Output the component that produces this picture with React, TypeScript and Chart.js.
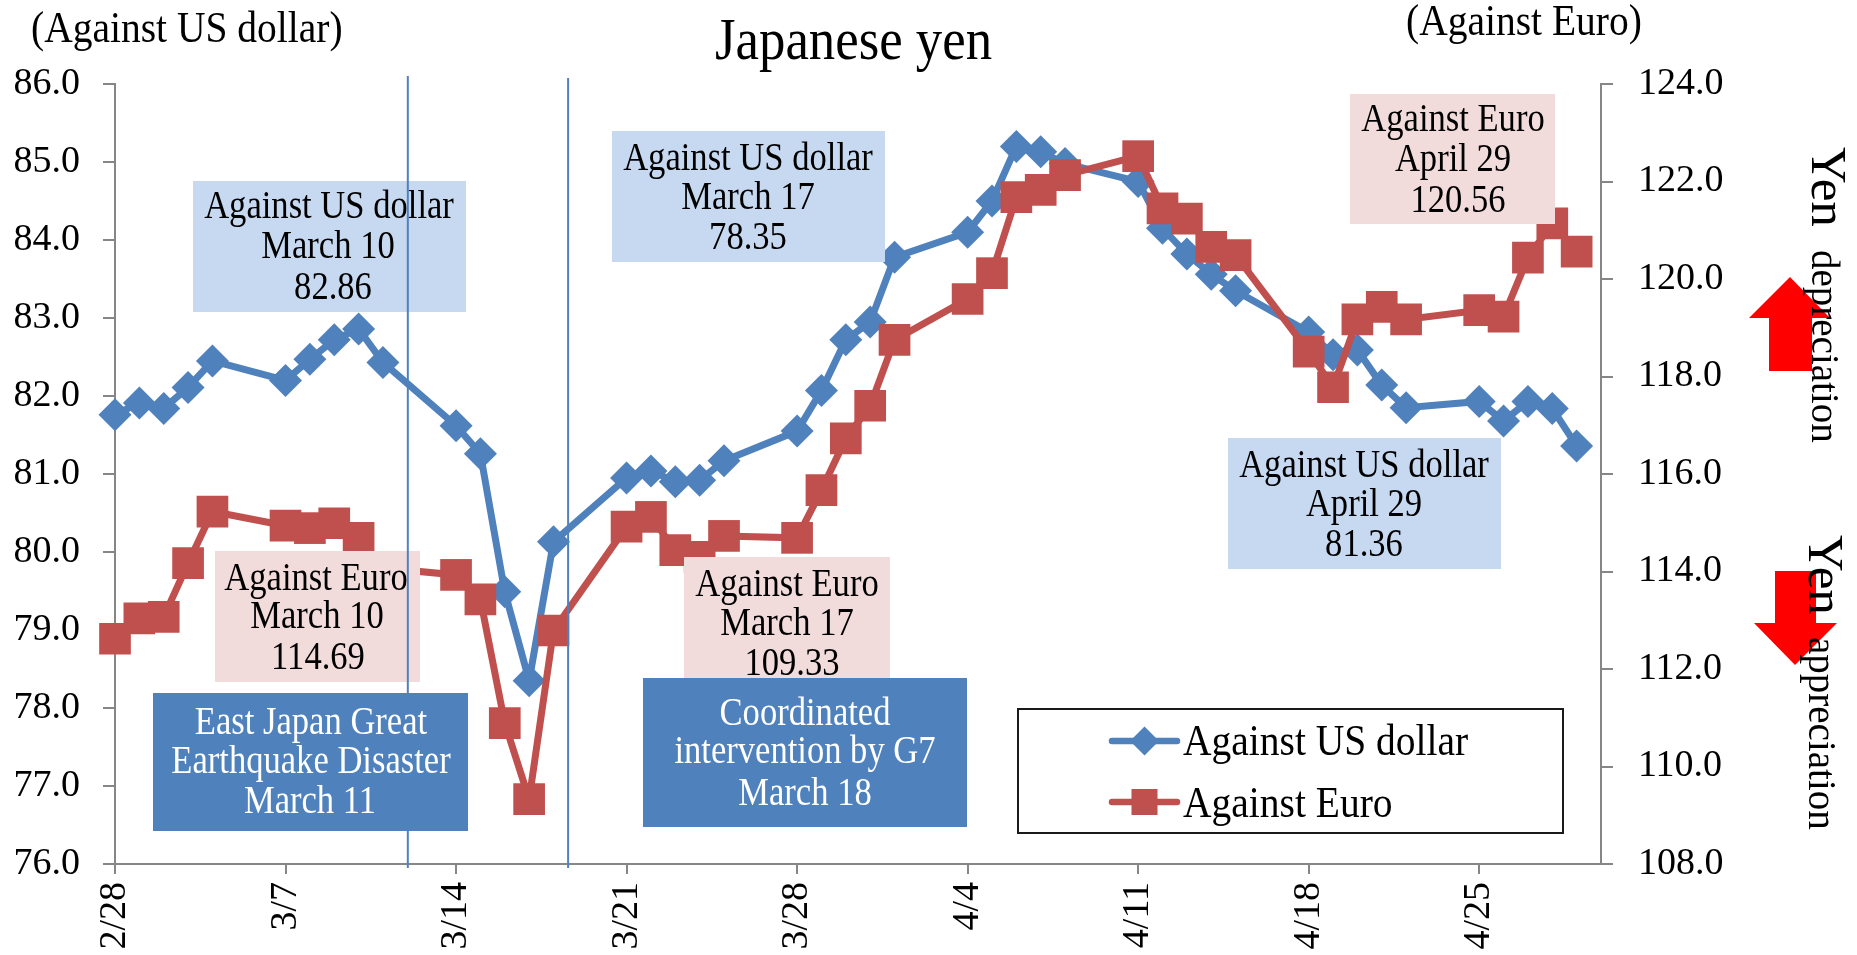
import React, { useEffect, useRef } from "react";
import { Chart, registerables } from "chart.js";
import { drawPoint } from "chart.js/helpers";

Chart.register(...registerables);

// Days counted from 2/28 (trading days only)
const tradingDays = [0, 1, 2, 3, 4, 7, 8, 9, 10, 11, 14, 15, 16, 17, 18, 21, 22, 23, 24, 25, 28, 29, 30, 31, 32, 35, 36, 37, 38, 39, 42, 43, 44, 45, 46, 49, 50, 51, 52, 53, 56, 57, 58, 59, 60];
const usdValues = [81.76, 81.91, 81.84, 82.11, 82.45, 82.2, 82.47, 82.72, 82.86, 82.43, 81.62, 81.26, 79.49, 78.35, 80.13, 80.95, 81.04, 80.9, 80.92, 81.17, 81.55, 82.07, 82.72, 82.95, 83.78, 84.1, 84.5, 85.2, 85.13, 84.98, 84.75, 84.15, 83.82, 83.56, 83.35, 82.82, 82.53, 82.59, 82.14, 81.85, 81.93, 81.68, 81.93, 81.84, 81.36];
const eurValues = [112.62, 113.04, 113.07, 114.17, 115.23, 114.94, 114.89, 114.99, 114.69, 114.07, 113.93, 113.43, 110.89, 109.33, 112.79, 114.92, 115.12, 114.44, 114.3, 114.73, 114.69, 115.67, 116.73, 117.4, 118.75, 119.59, 120.12, 121.68, 121.83, 122.13, 122.52, 121.45, 121.24, 120.66, 120.49, 118.51, 117.78, 119.17, 119.43, 119.17, 119.36, 119.23, 120.44, 121.14, 120.56];
const xTickLabels = ["2/28", "3/7", "3/14", "3/21", "3/28", "4/4", "4/11", "4/18", "4/25"];
const eventDays = [12.02, 18.6];
const eventTops = [76, 78];

const USD = "#4F81BD";
const EUR = "#C0504D";
const AXIS = "#868686";
const LIGHT_BLUE = "#C6D9F1";
const PINK = "#F2DCDB";
const SERIF = '"Liberation Serif", "Times New Roman", serif';
const TEXT_STRETCH = 1.13;

type Line = [string, number, number];
type Box = { r: number[]; fill: string; color: string; lines: Line[] };

const softBoxes: Box[] = [
  { r: [193, 181, 466, 312], fill: LIGHT_BLUE, color: "#000", lines: [["Against US dollar", 329, 218], ["March 10", 328, 258], ["82.86", 333, 299]] },
  { r: [215, 551, 420, 682], fill: PINK, color: "#000", lines: [["Against Euro", 316, 590], ["March 10", 317, 628], ["114.69", 318, 669]] },
  { r: [612, 131, 885, 262], fill: LIGHT_BLUE, color: "#000", lines: [["Against US dollar", 748, 170], ["March 17", 748, 209], ["78.35", 748, 249]] },
  { r: [684, 557, 890, 688], fill: PINK, color: "#000", lines: [["Against Euro", 787, 596], ["March 17", 787, 635], ["109.33", 792, 675]] },
  { r: [1350, 94, 1555, 224], fill: PINK, color: "#000", lines: [["Against Euro", 1453, 131], ["April 29", 1453, 171], ["120.56", 1458, 212]] },
  { r: [1228, 438, 1501, 569], fill: LIGHT_BLUE, color: "#000", lines: [["Against US dollar", 1364, 477], ["April 29", 1364, 516], ["81.36", 1364, 556]] },
];
const solidBoxes: Box[] = [
  { r: [153, 693, 468, 831], fill: USD, color: "#fff", lines: [["East Japan Great", 311, 734], ["Earthquake Disaster", 311, 773], ["March 11", 310, 813]] },
  { r: [643, 678, 967, 827], fill: USD, color: "#fff", lines: [["Coordinated", 805, 725], ["intervention by G7", 805, 763], ["March 18", 805, 805]] },
];

function tallText(ctx: CanvasRenderingContext2D, t: string, x: number, y: number) {
  ctx.save();
  ctx.translate(x, y);
  ctx.scale(1, TEXT_STRETCH);
  ctx.fillText(t, 0, 0);
  ctx.restore();
}

function drawBox(ctx: CanvasRenderingContext2D, b: Box) {
  const [x0, y0, x1, y1] = b.r;
  ctx.fillStyle = b.fill;
  ctx.fillRect(x0, y0, x1 - x0, y1 - y0);
  ctx.fillStyle = b.color;
  ctx.font = `34.6px ${SERIF}`;
  ctx.textAlign = "center";
  ctx.textBaseline = "alphabetic";
  for (const [t, x, y] of b.lines) tallText(ctx, t, x, y);
}

function arrow(ctx: CanvasRenderingContext2D, pts: number[][]) {
  ctx.fillStyle = "#FF0000";
  ctx.beginPath();
  pts.forEach(([x, y], i) => (i ? ctx.lineTo(x, y) : ctx.moveTo(x, y)));
  ctx.closePath();
  ctx.fill();
}

function vText(ctx: CanvasRenderingContext2D, t: string, x: number, y: number, size: number) {
  ctx.save();
  ctx.translate(x, y);
  ctx.rotate(Math.PI / 2);
  ctx.font = `${size}px ${SERIF}`;
  ctx.textAlign = "left";
  ctx.textBaseline = "alphabetic";
  ctx.fillStyle = "#000";
  ctx.fillText(t, 0, 0);
  ctx.restore();
}

const overlay = {
  id: "overlay",
  afterDatasetsDraw(chart: any) {
    const ctx: CanvasRenderingContext2D = chart.ctx;
    ctx.save();
    softBoxes.forEach((b) => drawBox(ctx, b));

    ctx.strokeStyle = USD;
    ctx.lineWidth = 2;
    eventDays.forEach((d, i) => {
      const x = chart.scales.x.getPixelForValue(d);
      ctx.beginPath();
      ctx.moveTo(x, eventTops[i]);
      ctx.lineTo(x, 868);
      ctx.stroke();
    });

    solidBoxes.forEach((b) => drawBox(ctx, b));

    // Legend
    ctx.fillStyle = "#fff";
    ctx.fillRect(1018, 709, 545, 124);
    ctx.strokeStyle = "#1a1a1a";
    ctx.lineWidth = 2;
    ctx.strokeRect(1018, 709, 545, 124);
    const rows = [
      { y: 741, base: 755, ds: 0, opt: { pointStyle: "rectRot", radius: 14.5, rotation: 0, borderWidth: 0 } },
      { y: 802, base: 817, ds: 1, opt: { pointStyle: "rect", radius: 18.4, rotation: 0, borderWidth: 0 } },
    ];
    rows.forEach((row) => {
      const ds = chart.data.datasets[row.ds];
      ctx.strokeStyle = ds.borderColor;
      ctx.fillStyle = ds.borderColor;
      ctx.lineWidth = 6.5;
      ctx.lineCap = "round";
      ctx.beginPath();
      ctx.moveTo(1112, row.y);
      ctx.lineTo(1177, row.y);
      ctx.stroke();
      drawPoint(ctx, row.opt as any, 1144.5, row.y);
      ctx.fillStyle = "#000";
      ctx.font = `39.5px ${SERIF}`;
      ctx.textAlign = "left";
      ctx.textBaseline = "alphabetic";
      tallText(ctx, ds.label, 1183, row.base);
    });

    // Headings
    ctx.fillStyle = "#000";
    ctx.textAlign = "left";
    ctx.font = `39.5px ${SERIF}`;
    tallText(ctx, "(Against US dollar)", 31, 42);
    tallText(ctx, "(Against Euro)", 1406, 35);
    ctx.font = `52.8px ${SERIF}`;
    tallText(ctx, "Japanese yen", 715, 59);

    // Direction arrows and captions
    arrow(ctx, [[1790, 277], [1830, 318], [1812, 318], [1812, 371], [1769, 371], [1769, 318], [1749, 318]]);
    arrow(ctx, [[1775, 571], [1816, 571], [1816, 623], [1837, 623], [1795, 665], [1754, 623], [1775, 623]]);
    vText(ctx, "Yen", 1812, 147, 51);
    vText(ctx, "depreciation", 1812, 250, 39);
    vText(ctx, "Yen", 1809, 535, 51);
    vText(ctx, "appreciation", 1809, 637, 39);
    ctx.restore();
  },
};

const whiteBg = {
  id: "whiteBg",
  beforeDraw(chart: any) {
    chart.ctx.save();
    chart.ctx.fillStyle = "#fff";
    chart.ctx.fillRect(0, 0, chart.width, chart.height);
    chart.ctx.restore();
  },
};

export default function App() {
  const ref = useRef<HTMLCanvasElement>(null);
  useEffect(() => {
    const axisBits = (tickLength: number) => ({
      drawOnChartArea: false,
      drawTicks: true,
      tickLength,
      tickWidth: 2,
      tickColor: AXIS,
      color: AXIS,
      lineWidth: 2,
    });
    const chart = new Chart(ref.current as HTMLCanvasElement, {
      type: "line",
      data: {
        datasets: [
          {
            label: "Against US dollar",
            yAxisID: "y",
            order: 1,
            data: tradingDays.map((d, i) => ({ x: d, y: usdValues[i] })),
            borderColor: USD,
            backgroundColor: USD,
            borderWidth: 7,
            pointStyle: "rectRot",
            pointRadius: 16.5,
            pointBorderWidth: 0,
            tension: 0,
            clip: false,
          },
          {
            label: "Against Euro",
            yAxisID: "y1",
            order: 0,
            data: tradingDays.map((d, i) => ({ x: d, y: eurValues[i] })),
            borderColor: EUR,
            backgroundColor: EUR,
            borderWidth: 7,
            pointStyle: "rect",
            pointRadius: 22.4,
            pointBorderWidth: 0,
            tension: 0,
            clip: false,
          },
        ],
      },
      options: {
        responsive: false,
        animation: false,
        layout: { padding: { top: 84, left: 0, right: 0, bottom: 0 } },
        plugins: { legend: { display: false }, tooltip: { enabled: false }, title: { display: false } },
        scales: {
          x: {
            type: "linear",
            min: 0,
            max: 61,
            grid: axisBits(10),
            border: { color: AXIS, width: 2 },
            afterFit: (s: any) => { s.height = 91; },
            ticks: {
              stepSize: 7,
              includeBounds: false,
              autoSkip: false,
              minRotation: 90,
              maxRotation: 90,
              padding: 8,
              color: "#000",
              font: { family: SERIF, size: 38 },
              callback: (v: any) => xTickLabels[Math.round(Number(v) / 7)] ?? "",
            },
          },
          y: {
            type: "linear",
            position: "left",
            min: 76,
            max: 86,
            grid: axisBits(12),
            border: { color: AXIS, width: 2 },
            afterFit: (s: any) => { s.width = 115; },
            ticks: {
              stepSize: 1,
              padding: 23,
              color: "#000",
              font: { family: SERIF, size: 38 },
              callback: (v: any) => Number(v).toFixed(1),
            },
          },
          y1: {
            type: "linear",
            position: "right",
            min: 108,
            max: 124,
            grid: axisBits(12),
            border: { color: AXIS, width: 2 },
            afterFit: (s: any) => { s.width = 256; },
            ticks: {
              stepSize: 2,
              padding: 25,
              color: "#000",
              font: { family: SERIF, size: 38 },
              callback: (v: any) => Number(v).toFixed(1),
            },
          },
        },
      },
      plugins: [whiteBg, overlay],
    } as any);
    return () => chart.destroy();
  }, []);
  return (
    <div style={{ position: "absolute", left: 0, top: 0, width: 1857, height: 955 }}>
      <canvas ref={ref} width={1857} height={955} style={{ display: "block" }} />
    </div>
  );
}
